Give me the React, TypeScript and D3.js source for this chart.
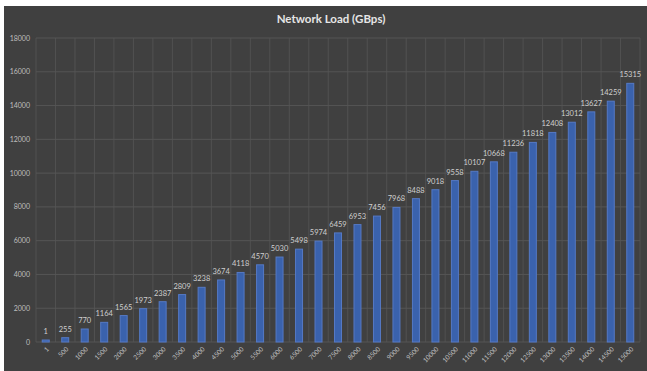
import React from "react";
import * as d3 from "d3";

const categories: string[] = [
  "1", "500", "1000", "1500", "2000", "2500", "3000", "3500", "4000", "4500",
  "5000", "5500", "6000", "6500", "7000", "7500", "8000", "8500", "9000", "9500",
  "10000", "10500", "11000", "11500", "12000", "12500", "13000", "13500", "14000", "14500", "15000",
];
const loadGBps: number[] = [
  1, 255, 770, 1164, 1565, 1973, 2387, 2809, 3238, 3674,
  4118, 4570, 5030, 5498, 5974, 6459, 6953, 7456, 7968, 8488,
  9018, 9558, 10107, 10668, 11236, 11818, 12408, 13012, 13627, 14259, 15315,
];
const yTicks: number[] = [0, 2000, 4000, 6000, 8000, 10000, 12000, 14000, 16000, 18000];

const W = 647;
const H = 371;
const plot = { left: 36, right: 640, top: 38, bottom: 342 };
const FONT = "Lato, 'Open Sans', sans-serif";

export default function App() {
  const x = d3
    .scaleBand<string>()
    .domain(categories)
    .range([plot.left, plot.right])
    .paddingInner(0)
    .paddingOuter(0);
  const y = d3.scaleLinear().domain([0, 18000]).range([plot.bottom, plot.top]);
  const bw = 7;
  const boundaries = categories.map((c) => x(c)!).concat([plot.right]);

  return (
    <svg
      width={W}
      height={H}
      style={{ position: "absolute", left: 0, top: 0, display: "block" }}
    >
      <rect x={0} y={0} width={W} height={H} fill="#ffffff" />
      <rect x={4} y={6} width={W - 4} height={H - 6} fill="#404040" />
      <text
        x={331}
        y={23}
        textAnchor="middle"
        fill="#e6e6e6"
        fontFamily={FONT}
        fontWeight={700}
        fontSize={11.5}
      >
        Network Load (GBps)
      </text>

      {/* gridlines */}
      {yTicks.map((t) => (
        <line
          key={"h" + t}
          x1={plot.left}
          x2={plot.right}
          y1={y(t)}
          y2={y(t)}
          stroke="#5a5a5a"
          strokeWidth={0.8}
        />
      ))}
      {boundaries.map((bx, i) => (
        <line
          key={"v" + i}
          x1={bx}
          x2={bx}
          y1={plot.top}
          y2={plot.bottom}
          stroke="#555555"
          strokeWidth={0.8}
        />
      ))}

      {/* y axis labels */}
      {yTicks.map((t) => (
        <text
          key={"yl" + t}
          x={30}
          y={y(t) + 2.5}
          textAnchor="end"
          fill="#bfbfbf"
          fontFamily={FONT}
          fontSize={7}
        >
          {t}
        </text>
      ))}

      {/* bars */}
      {loadGBps.map((v, i) => {
        const cx = x(categories[i])! + x.bandwidth() / 2;
        const top = Math.min(y(v), plot.bottom - 2);
        return (
          <g key={"b" + i}>
            <rect
              x={cx - bw / 2}
              y={top}
              width={bw}
              height={plot.bottom - top}
              fill="#3a62ad"
              stroke="#5579c4"
              strokeWidth={1}
            />
            <text
              x={cx}
              y={top - 6}
              textAnchor="middle"
              fill="#cfcfcf"
              fontFamily={FONT}
              fontSize={7.5}
            >
              {v}
            </text>
          </g>
        );
      })}

      {/* x axis labels */}
      {categories.map((c) => {
        const cx = x(c)! + x.bandwidth() / 2 + 2;
        const ty = plot.bottom + 6;
        return (
          <text
            key={"xl" + c}
            transform={`translate(${cx},${ty}) rotate(-45)`}
            textAnchor="end"
            dy="0.35em"
            fill="#bfbfbf"
            fontFamily={FONT}
            fontSize={6.5}
          >
            {c}
          </text>
        );
      })}
    </svg>
  );
}
